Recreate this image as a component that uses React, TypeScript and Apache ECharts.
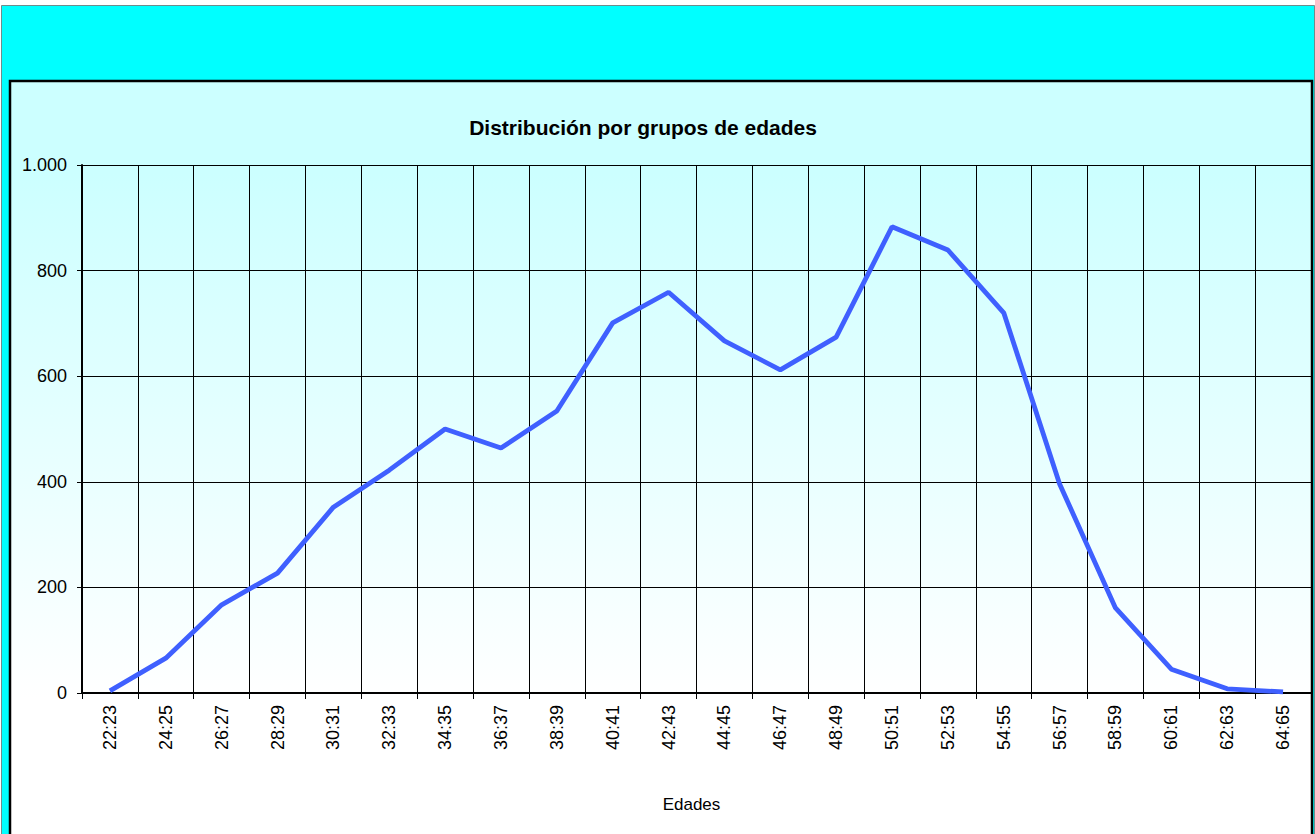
import React, { useEffect, useRef } from "react";
import * as echarts from "echarts";

const categories = [
  "22:23", "24:25", "26:27", "28:29", "30:31", "32:33", "34:35", "36:37",
  "38:39", "40:41", "42:43", "44:45", "46:47", "48:49", "50:51", "52:53",
  "54:55", "56:57", "58:59", "60:61", "62:63", "64:65",
];
const values = [
  4, 66, 167, 227, 352, 422, 500, 464, 534, 701, 759, 667, 612, 674, 883, 839,
  720, 396, 161, 45, 8, 2,
];
const yTicks = { min: 0, max: 1000, interval: 200 };
const titleText = "Distribución por grupos de edades";
const xName = "Edades";

const FONT = "'Liberation Sans', Arial, sans-serif";

export default function App() {
  const ref = useRef<HTMLDivElement>(null);
  useEffect(() => {
    if (!ref.current) return;
    const chart = echarts.init(ref.current, null, { renderer: "svg" });
    chart.setOption({
      animation: false,
      textStyle: { fontFamily: FONT },
      title: {
        text: titleText,
        left: 638,
        top: 112,
        textAlign: "center",
        textStyle: { fontSize: 21, fontWeight: "bold", color: "#000", fontFamily: FONT },
      },
      graphic: {
        elements: [
          {
            type: "rect",
            z: -100,
            shape: { x: 1.5, y: 5.5, width: 1313, height: 840 },
            style: { fill: "#00FFFF", stroke: "#6E8C8C", lineWidth: 1 },
          },
          {
            type: "rect",
            z: -99,
            shape: { x: 10, y: 81, width: 1302, height: 770 },
            style: {
              fill: new echarts.graphic.LinearGradient(0, 0, 0, 1, [
                { offset: 0, color: "#CCFFFF" },
                { offset: 0.12, color: "#CCFFFF" },
                { offset: 0.8, color: "#FFFFFF" },
                { offset: 1, color: "#FFFFFF" },
              ]),
              stroke: "#000",
              lineWidth: 2.5,
            },
          },
        ],
      },
      grid: { left: 82, top: 165, width: 1229, height: 528, containLabel: false },
      xAxis: {
        type: "category",
        data: categories,
        boundaryGap: true,
        name: xName,
        nameLocation: "middle",
        nameGap: 103,
        nameTextStyle: { fontSize: 17, color: "#000", fontFamily: FONT, padding: [0, 10, 0, 0] },
        axisLine: { show: true, lineStyle: { color: "#000", width: 2 } },
        axisTick: { show: true, length: 6, alignWithLabel: false, lineStyle: { color: "#000" } },
        splitLine: { show: true, lineStyle: { color: "#000", width: 1 } },
        axisLabel: { rotate: 90, fontSize: 18, color: "#000", margin: 12, fontFamily: FONT, interval: 0 },
      },
      yAxis: {
        type: "value",
        min: yTicks.min,
        max: yTicks.max,
        interval: yTicks.interval,
        axisLine: { show: true, lineStyle: { color: "#000", width: 2 } },
        axisTick: { show: true, length: 5, lineStyle: { color: "#000" } },
        splitLine: { show: true, lineStyle: { color: "#000", width: 1 } },
        axisLabel: {
          fontSize: 18,
          color: "#000",
          margin: 15,
          fontFamily: FONT,
          formatter: (v: number) => String(v).replace(/\B(?=(\d{3})+(?!\d))/g, "."),
        },
      },
      series: [
        {
          type: "line",
          data: values,
          symbol: "none",
          lineStyle: { color: "#3F60FF", width: 4.8 },
          z: 5,
        },
      ],
    });
    return () => chart.dispose();
  }, []);
  return (
    <div
      ref={ref}
      style={{ position: "absolute", left: 0, top: 0, width: 1315, height: 834 }}
    />
  );
}
